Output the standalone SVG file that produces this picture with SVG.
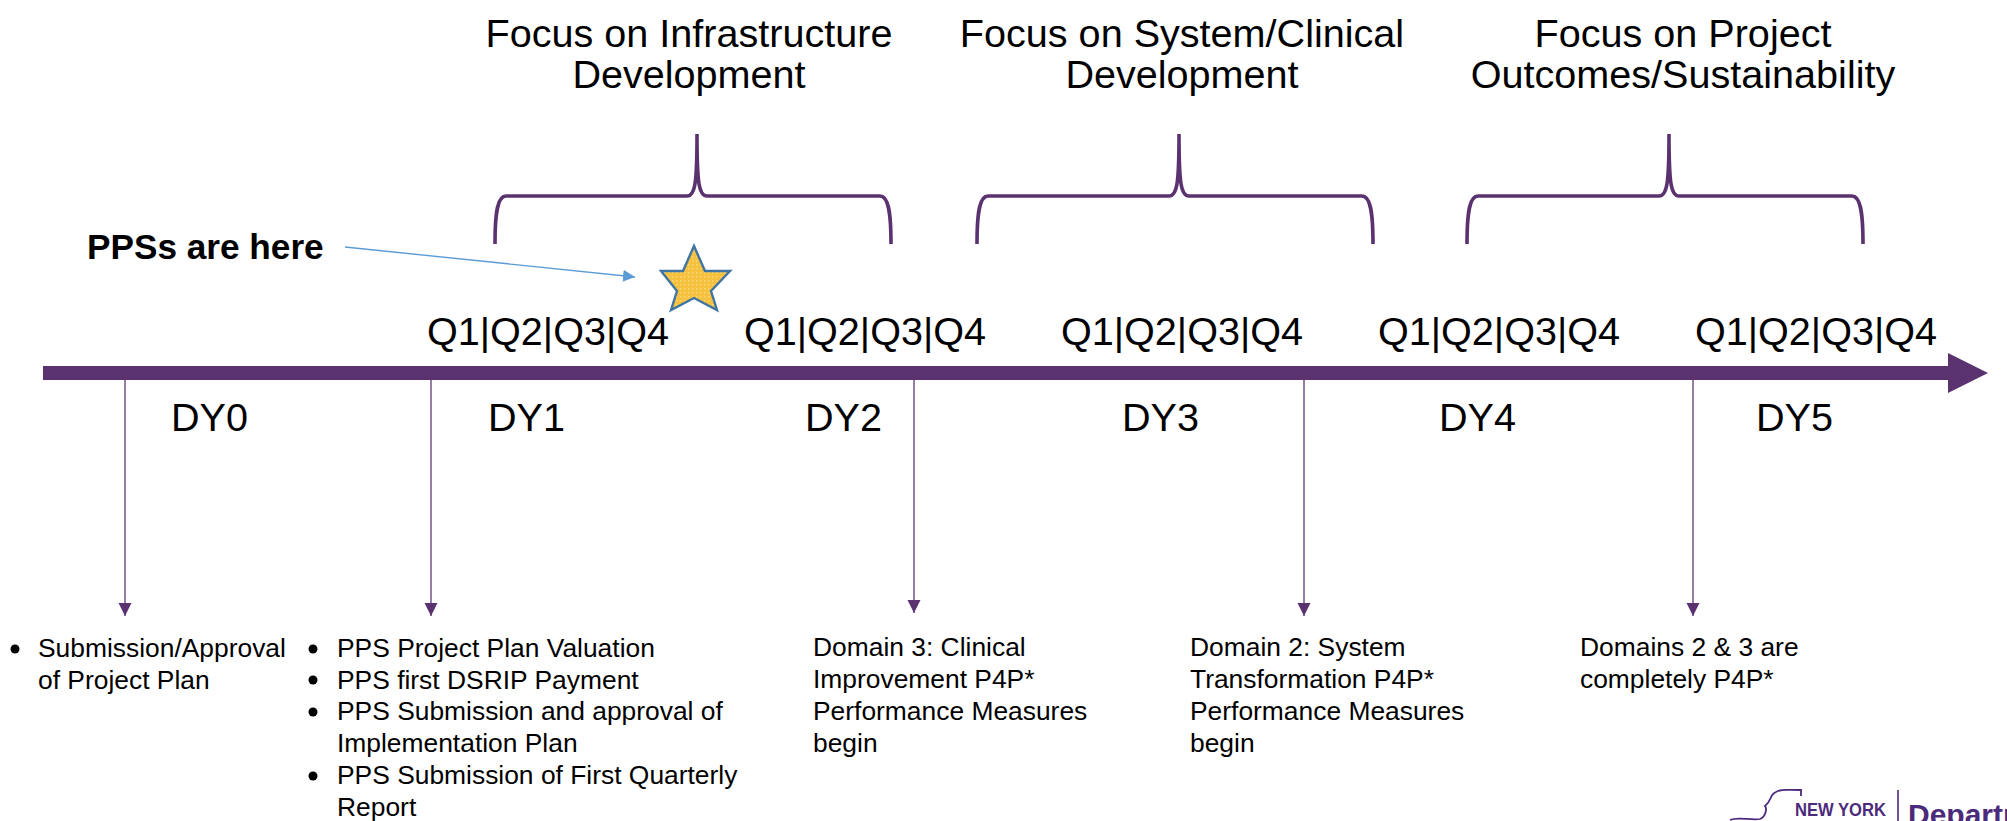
<svg xmlns="http://www.w3.org/2000/svg" width="2007" height="821" viewBox="0 0 2007 821">
<style>
text{font-family:"Liberation Sans",Arial,sans-serif;fill:#000}
.h{font-size:39.6px;text-anchor:middle}
.q{font-size:39.6px}
.b{font-size:26.4px}
.brace{fill:none;stroke:#5b3270;stroke-width:3.6}
.v{fill:none;stroke:#6a4580;stroke-width:1.4;marker-end:url(#pa)}
</style>
<defs>
<marker id="pa" markerUnits="userSpaceOnUse" markerWidth="13" markerHeight="14" refX="13" refY="6.5" orient="auto"><path d="M0 0L13 6.5L0 13Z" fill="#5b3270"/></marker>
<marker id="ba" markerUnits="userSpaceOnUse" markerWidth="12" markerHeight="13" refX="12" refY="6" orient="auto"><path d="M0 0L12 6L0 12Z" fill="#5b9bd5"/></marker>
<pattern id="st" width="4" height="4" patternUnits="userSpaceOnUse"><rect width="4" height="4" fill="#f6c13f"/><rect width="1.5" height="1.5" fill="#fbd873"/></pattern>
<path id="br" d="M0 0C0 -34 3 -48 11 -48H192C200 -48 202 -60 202 -110C202 -60 204 -48 212 -48H385C393 -48 396 -34 396 0"/>
</defs>
<g id="headers">
<text class="h" x="689" y="47">Focus on Infrastructure</text><text class="h" x="689" y="88">Development</text>
<text class="h" x="1182" y="47">Focus on System/Clinical</text><text class="h" x="1182" y="88">Development</text>
<text class="h" x="1683" y="47">Focus on Project</text><text class="h" x="1683" y="88">Outcomes/Sustainability</text>
</g>
<g id="braces" class="brace">
<use href="#br" x="495" y="244"/><use href="#br" x="977" y="244"/><use href="#br" x="1467" y="244"/>
</g>
<g id="pps-label"><text x="87" y="259" style="font-size:35.2px;font-weight:700">PPSs are here</text></g>
<g id="star"><polygon points="694,246 705,271 730,271 711,291 717,310 694,298 671,310 677,291 661,271 683,271" fill="url(#st)" stroke="#3f74a3" stroke-width="2.4"/></g>
<g id="quarters">
<text class="q" x="427" y="345">Q1|Q2|Q3|Q4</text>
<text class="q" x="744" y="345">Q1|Q2|Q3|Q4</text>
<text class="q" x="1061" y="345">Q1|Q2|Q3|Q4</text>
<text class="q" x="1378" y="345">Q1|Q2|Q3|Q4</text>
<text class="q" x="1695" y="345">Q1|Q2|Q3|Q4</text>
</g>
<g id="timeline"><path d="M43 366H1948V353L1988 373L1948 393V380H43Z" fill="#5b3270"/></g>
<g id="years">
<text class="q" x="171" y="431">DY0</text>
<text class="q" x="488" y="431">DY1</text>
<text class="q" x="805" y="431">DY2</text>
<text class="q" x="1122" y="431">DY3</text>
<text class="q" x="1439" y="431">DY4</text>
<text class="q" x="1756" y="431">DY5</text>
</g>
<g id="connectors">
<path class="v" d="M125 380V616"/>
<path class="v" d="M431 380V616"/>
<path class="v" d="M914 380V613"/>
<path class="v" d="M1304 380V616"/>
<path class="v" d="M1693 380V616"/>
<path d="M345 247L635 277" fill="none" stroke="#5b9bd5" stroke-width="1.4" marker-end="url(#ba)"/>
</g>
<g id="note-dy0">
<circle cx="15" cy="649" r="4.5"/>
<text class="b" x="38" y="657">Submission/Approval</text>
<text class="b" x="38" y="689">of Project Plan</text>
</g>
<g id="note-dy1">
<circle cx="313" cy="649" r="4.5"/><circle cx="313" cy="680" r="4.5"/><circle cx="313" cy="712" r="4.5"/><circle cx="313" cy="776" r="4.5"/>
<text class="b" x="337" y="657">PPS Project Plan Valuation</text>
<text class="b" x="337" y="689">PPS first DSRIP Payment</text>
<text class="b" x="337" y="720">PPS Submission and approval of</text>
<text class="b" x="337" y="752">Implementation Plan</text>
<text class="b" x="337" y="784">PPS Submission of First Quarterly</text>
<text class="b" x="337" y="816">Report</text>
</g>
<g id="note-dy2">
<text class="b" x="813" y="656">Domain 3: Clinical</text>
<text class="b" x="813" y="688">Improvement P4P*</text>
<text class="b" x="813" y="720">Performance Measures</text>
<text class="b" x="813" y="752">begin</text>
</g>
<g id="note-dy3">
<text class="b" x="1190" y="656">Domain 2: System</text>
<text class="b" x="1190" y="688">Transformation P4P*</text>
<text class="b" x="1190" y="720">Performance Measures</text>
<text class="b" x="1190" y="752">begin</text>
</g>
<g id="note-dy5">
<text class="b" x="1580" y="656">Domains 2 &amp; 3 are</text>
<text class="b" x="1580" y="688">completely P4P*</text>
</g>
<g id="logo">
<path d="M1730 820C1738 816 1752 821 1760 819C1766 817 1767 808 1765 806C1772 801 1769 795 1776 792C1781 789 1785 790 1800 790H1801V796" fill="none" stroke="#4b2a7b" stroke-width="1.8"/>
<text x="1795" y="816" textLength="91" lengthAdjust="spacingAndGlyphs" style="font-size:18px;font-weight:700;fill:#4b2a7b">NEW YORK</text>
<path d="M1898 790V821" stroke="#4b2a7b" stroke-width="1.6"/>
<text x="1908" y="825" style="font-size:30px;font-weight:700;fill:#4b2a7b">Departm</text>
</g>
</svg>
